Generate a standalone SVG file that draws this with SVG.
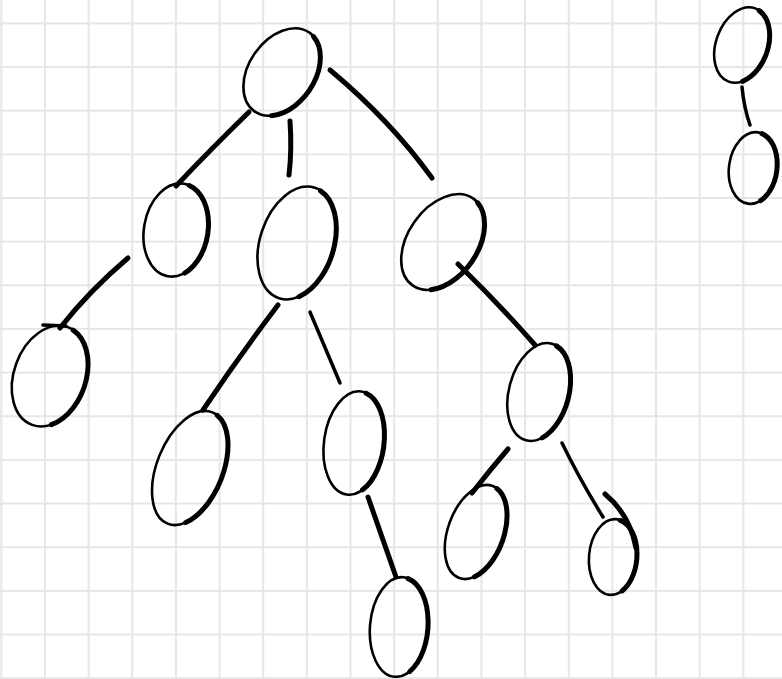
<svg xmlns="http://www.w3.org/2000/svg" width="782" height="679" viewBox="0 0 782 679">
<defs>
<pattern id="grid" x="0.3" y="22.4" width="43.65" height="43.65" patternUnits="userSpaceOnUse">
<path d="M0 1H43.65M1 0V43.65" fill="none" stroke="#e6e6e6" stroke-width="2"/>
</pattern>
<style>
.ring{fill:none;stroke:#000;stroke-width:2.6}
.bold{fill:none;stroke:#000;stroke-width:5;stroke-linecap:round}
.edge{fill:none;stroke:#000;stroke-width:3.5;stroke-linecap:round}
.heavy{fill:none;stroke:#000;stroke-width:5;stroke-linecap:round}
</style>
</defs>
<rect width="782" height="679" fill="#fff"/>
<rect width="782" height="679" fill="url(#grid)"/>
<g id="connectors">
<path class="heavy" d="M249 112 Q210 150 176 186"/>
<path class="heavy" d="M290 121 Q292 150 289 175"/>
<path class="heavy" d="M330 70 Q390 120 432 178"/>
<path class="heavy" d="M128 258 Q90 290 60 328"/>
<path class="edge" d="M43 325 L66 326"/>
<path class="heavy" d="M278 305 Q240 355 203 410"/>
<path class="edge" d="M310 312 Q326 350 340 383"/>
<path class="heavy" d="M458 264 Q500 305 535 345"/>
<path class="heavy" d="M508 449 Q490 470 472 493"/>
<path class="edge" d="M562 443 Q580 480 603 517"/>
<path class="heavy" d="M368 497 Q382 537 396 577"/>
<path class="edge" d="M742 87 Q744 108 750 125"/>
</g>
<g id="root" transform="translate(282 72) rotate(35)"><ellipse class="ring" rx="33" ry="48"/><path class="bold" d="M5.6 -47 A33 48 0 0 1 16.5 41.8"/></g>
<g id="nodeA" transform="translate(176 230) rotate(10)"><ellipse class="ring" rx="32" ry="47"/><path class="bold" d="M5.4 -46.1 A32 47 0 0 1 16 40.9"/></g>
<g id="nodeB" transform="translate(297 243) rotate(18)"><ellipse class="ring" rx="37" ry="58"/><path class="bold" d="M6.3 -56.8 A37 58 0 0 1 18.5 50.5"/></g>
<g id="nodeC" transform="translate(443 242) rotate(35)"><ellipse class="ring" rx="35" ry="53"/><path class="bold" d="M6 -52 A35 53 0 0 1 17.5 46" stroke-width="7"/></g>
<g id="nodeD" transform="translate(50 376) rotate(20)"><ellipse class="ring" rx="36" ry="52"/><path class="bold" d="M6.1 -51 A36 52 0 0 1 18 45.2"/></g>
<g id="nodeE" transform="translate(190 468) rotate(22)"><ellipse class="ring" rx="33" ry="60"/><path class="bold" d="M5.6 -59 A33 60 0 0 1 16.5 52.2"/></g>
<g id="nodeF" transform="translate(354 443) rotate(8)"><ellipse class="ring" rx="30" ry="52"/><path class="bold" d="M5.1 -51 A30 52 0 0 1 15 45.2"/></g>
<g id="nodeG" transform="translate(539 392) rotate(15)"><ellipse class="ring" rx="30" ry="50"/><path class="bold" d="M5.1 -49 A30 50 0 0 1 15 43.5"/></g>
<g id="nodeH" transform="translate(476 532) rotate(20)"><ellipse class="ring" rx="28" ry="49"/><path class="bold" d="M4.8 -48 A28 49 0 0 1 14 42.6"/></g>
<g id="nodeI"><g transform="translate(613 557) rotate(5)"><ellipse class="ring" rx="24" ry="38" stroke-width="4"/><path class="bold" d="M4.1 -37.2 A24 38 0 0 1 12 33"/></g><path class="bold" d="M605 494 Q630 515 636 548"/></g>
<g id="nodeJ" transform="translate(399 627) rotate(5)"><ellipse class="ring" rx="29" ry="50" stroke-width="3.5"/><path class="bold" d="M4.9 -49 A29 50 0 0 1 14.5 43.5"/></g>
<g id="nodeK" transform="translate(742 45) rotate(20)"><ellipse class="ring" rx="26" ry="39" stroke-width="4"/><path class="bold" d="M4.4 -38.2 A26 39 0 0 1 13 33.9"/></g>
<g id="nodeL" transform="translate(753 168) rotate(8)"><ellipse class="ring" rx="24" ry="36" stroke-width="4"/><path class="bold" d="M4.1 -35.3 A24 36 0 0 1 12 31.3"/></g>
</svg>
